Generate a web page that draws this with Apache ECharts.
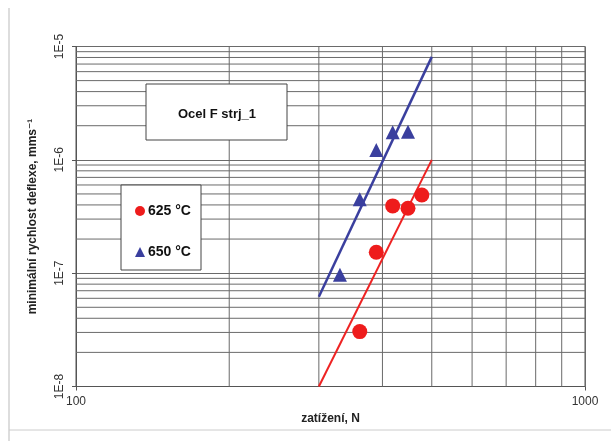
<!DOCTYPE html>
<html><head><meta charset="utf-8">
<script src="https://cdn.jsdelivr.net/npm/echarts@6/dist/echarts.min.js"></script>
<style>html,body{margin:0;padding:0;background:#fff}#c{width:611px;height:441px}</style>
</head><body><div id="c"></div>
<script>
// ---- data ----
const loadRed = [361, 389, 419, 449, 478];
const rateRed = [3.05e-8, 1.53e-7, 3.92e-7, 3.74e-7, 4.9e-7];
const loadBlue = [330, 361, 389, 419, 449];
const rateBlue = [9.7e-8, 4.5e-7, 1.22e-6, 1.75e-6, 1.77e-6];
const fitLoad = [300, 500];
const fitRed = [1.0e-8, 1.0e-6];
const fitBlue = [6.2e-8, 8.1e-6];
const seriesNames = ['625 °C', '650 °C'];
const minorMult = [2, 3, 4, 5, 6, 7, 8, 9];
const xDecades = [100];
const yDecades = [1e-8, 1e-7, 1e-6];
const xRange = [100, 1000];
const yRange = [1e-8, 1e-5];
const yTickLabels = {'-8': '1E-8', '-7': '1E-7', '-6': '1E-6', '-5': '1E-5'};

const zip = (a, b) => a.map((v, i) => [v, b[i]]);
const gridColor = '#6a6a6a';
const font = 'Arial, "Liberation Sans", "DejaVu Sans", sans-serif';

const gridSeries = [];
xDecades.forEach(d => minorMult.forEach(m => {
  gridSeries.push({type: 'line', data: [[d * m, yRange[0]], [d * m, yRange[1]]], symbol: 'none', silent: true,
    lineStyle: {color: gridColor, width: 1}, z: 1});
}));
yDecades.forEach(d => minorMult.forEach(m => {
  gridSeries.push({type: 'line', data: [[xRange[0], d * m], [xRange[1], d * m]], symbol: 'none', silent: true,
    lineStyle: {color: gridColor, width: 1}, z: 1});
}));

const chart = echarts.init(document.getElementById('c'), null, {renderer: 'canvas'});
chart.setOption({
  backgroundColor: '#ffffff',
  animation: false,
  grid: {left: 76, right: 26, top: 46.5, bottom: 54.5, show: true, borderColor: '#555', borderWidth: 1},
  xAxis: {
    type: 'log', logBase: 10, min: xRange[0], max: xRange[1],
    name: 'zatížení, N', nameLocation: 'middle', nameGap: 21,
    nameTextStyle: {fontFamily: font, fontWeight: 'bold', fontSize: 12, color: '#222'},
    axisLine: {lineStyle: {color: '#555'}},
    axisTick: {show: true, length: 4, lineStyle: {color: '#555'}},
    axisLabel: {fontFamily: font, fontSize: 12, color: '#333', margin: 9, formatter: v => String(Math.round(v))},
    splitLine: {show: true, lineStyle: {color: gridColor}}
  },
  yAxis: {
    type: 'log', logBase: 10, min: yRange[0], max: yRange[1],
    name: 'minimální rychlost deflexe, mms⁻¹', nameLocation: 'middle', nameGap: 37,
    nameTextStyle: {fontFamily: font, fontWeight: 'bold', fontSize: 12, color: '#222'},
    axisLine: {lineStyle: {color: '#555'}},
    axisTick: {show: true, length: 4, lineStyle: {color: '#555'}},
    axisLabel: {
      fontFamily: font, fontSize: 12, color: '#333', rotate: 90, margin: 10,
      formatter: v => yTickLabels[String(Math.round(Math.log10(v)))] || ''
    },
    splitLine: {show: true, lineStyle: {color: gridColor}}
  },
  legend: {
    orient: 'vertical', left: 130, top: 199,
    itemWidth: 10, itemHeight: 10, itemGap: 27,
    data: [{name: seriesNames[0], icon: 'circle'}, {name: seriesNames[1], icon: 'triangle'}],
    textStyle: {fontFamily: font, fontWeight: 'bold', fontSize: 14, color: '#111', padding: [0, 0, 0, -2]},
    z: 10
  },
  graphic: [
    {type: 'rect', shape: {x: 146, y: 84, width: 141, height: 56}, style: {fill: '#fff', stroke: '#444', lineWidth: 1}, z: 8},
    {type: 'text', x: 217, y: 114, style: {text: 'Ocel F strj_1', font: 'bold 13px ' + font, fill: '#111', align: 'center', verticalAlign: 'middle'}, z: 9},
    {type: 'rect', shape: {x: 121, y: 185, width: 80, height: 85}, style: {fill: '#fff', stroke: '#444', lineWidth: 1}, z: 8},
    {type: 'line', shape: {x1: 9, y1: 8, x2: 9, y2: 441}, style: {stroke: '#bbb', lineWidth: 1}, z: 1},
    {type: 'line', shape: {x1: 9, y1: 430, x2: 611, y2: 430}, style: {stroke: '#ccc', lineWidth: 1}, z: 1}
  ],
  series: gridSeries.concat([
    {type: 'line', name: 'fit625', data: zip(fitLoad, fitRed), symbol: 'none', lineStyle: {color: '#ee2222', width: 2}, z: 3},
    {type: 'line', name: 'fit650', data: zip(fitLoad, fitBlue), symbol: 'none', lineStyle: {color: '#3a3f9e', width: 2.5}, z: 3},
    {type: 'scatter', name: seriesNames[0], data: zip(loadRed, rateRed), symbol: 'circle', symbolSize: 15, itemStyle: {color: '#ee1c1c', opacity: 1}, z: 4},
    {type: 'scatter', name: seriesNames[1], data: zip(loadBlue, rateBlue), symbol: 'triangle', symbolSize: 14, itemStyle: {color: '#3a3f9e', opacity: 1}, z: 4}
  ])
});
</script></body></html>
